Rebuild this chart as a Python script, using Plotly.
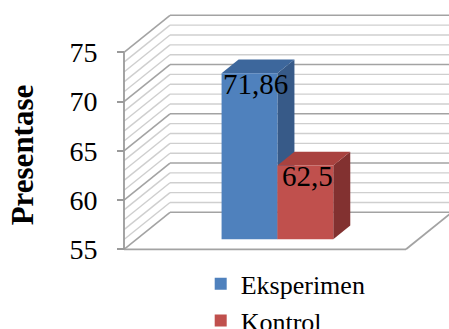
import plotly.graph_objects as go

# ---- data ----
categories = ["Eksperimen", "Kontrol"]
values = [71.86, 62.5]
value_labels = ["71,86", "62,5"]
tick_values = [55, 60, 65, 70, 75]
tick_labels = ["55", "60", "65", "70", "75"]

front_colors = ["#4F81BD", "#C0504D"]
top_colors = ["#3D679C", "#A9423F"]
side_colors = ["#375A88", "#823130"]

# ---- pseudo-3D geometry (category units on x, value units on y) ----
Y_MIN, Y_MAX = 55, 75
DX = 46 / 282          # horizontal shift of the back plane
DY = 37 / 9.85         # vertical shift of the back plane (value units)
BAR_W = 0.198
F0, F1 = 0.27, 0.64    # bar front / back depth fractions
bar_left = [-BAR_W, 0.0]

X_LO = -0.5 - 7 / 282
X_HI = -0.5 + 325 / 282
Y_LO = 55 - 79.7 / 9.85
Y_HI = 55 + 249.3 / 9.85

SERIF = "Liberation Serif"

fig = go.Figure()

# walls and floor
shapes = []
minor_c, major_c = "#CFCFCF", "#A3A3A3"
for v in range(Y_MIN, Y_MAX + 1):
    major = v % 5 == 0
    col = major_c if major else minor_c
    w = 1.6 if major else 1.4
    shapes.append(dict(type="line", xref="x", yref="y", layer="below",
                       x0=-0.5, y0=v, x1=-0.5 + DX, y1=v + DY,
                       line=dict(color=col, width=w)))
    shapes.append(dict(type="line", xref="x", yref="y", layer="below",
                       x0=-0.5 + DX, y0=v + DY, x1=0.5 + DX, y1=v + DY,
                       line=dict(color=col, width=w)))
# floor outline and front axis line
floor_pts = [(-0.5, Y_MIN), (0.5, Y_MIN), (0.5 + DX, Y_MIN + DY)]
for (xa, ya), (xb, yb) in zip(floor_pts[:-1], floor_pts[1:]):
    shapes.append(dict(type="line", xref="x", yref="y", layer="below",
                       x0=xa, y0=ya, x1=xb, y1=yb,
                       line=dict(color=major_c, width=1.8)))
shapes.append(dict(type="line", xref="x", yref="y", layer="below",
                   x0=-0.5, y0=Y_MIN, x1=-0.5, y1=Y_MAX,
                   line=dict(color="#9A9A9A", width=1.8)))

# bars: side face, top face, front face
for i, (name, v) in enumerate(zip(categories, values)):
    xl = bar_left[i]
    xr = xl + BAR_W
    z = 2 * i + 1
    side_x = [xr + F0 * DX, xr + F0 * DX, xr + F1 * DX, xr + F1 * DX, xr + F0 * DX]
    side_y = [Y_MIN + F0 * DY, v + F0 * DY, v + F1 * DY, Y_MIN + F1 * DY, Y_MIN + F0 * DY]
    top_x = [xl + F0 * DX, xr + F0 * DX, xr + F1 * DX, xl + F1 * DX, xl + F0 * DX]
    top_y = [v + F0 * DY, v + F0 * DY, v + F1 * DY, v + F1 * DY, v + F0 * DY]
    fig.add_trace(go.Scatter(x=side_x, y=side_y, fill="toself", mode="lines",
                             fillcolor=side_colors[i], line=dict(width=0),
                             showlegend=False, hoverinfo="skip", zorder=z))
    fig.add_trace(go.Scatter(x=top_x, y=top_y, fill="toself", mode="lines",
                             fillcolor=top_colors[i], line=dict(width=0),
                             showlegend=False, hoverinfo="skip", zorder=z))
    fig.add_trace(go.Bar(x=[xl + BAR_W / 2 + F0 * DX], y=[v - Y_MIN],
                         base=[Y_MIN + F0 * DY], width=[BAR_W], name=name,
                         marker=dict(color=front_colors[i], line=dict(width=0)),
                         zorder=z + 1))

# value labels
annotations = []
label_shift = [6, 2]
for i, (v, lab) in enumerate(zip(values, value_labels)):
    annotations.append(dict(x=bar_left[i] + BAR_W / 2 + F0 * DX, y=v + F0 * DY,
                            xref="x", yref="y", text=lab, showarrow=False,
                            xanchor="center", yanchor="middle", yshift=-11,
                            xshift=label_shift[i],
                            font=dict(family=SERIF, size=29, color="black")))
annotations.append(dict(x=-0.284, y=0.53, xref="paper", yref="paper",
                        text="<b>Presentase</b>", showarrow=False, textangle=-90,
                        xanchor="center", yanchor="middle",
                        font=dict(family=SERIF, size=31, color="black")))

fig.update_layout(
    width=449, height=329, autosize=False,
    margin=dict(l=117, r=0, t=0, b=0, autoexpand=False),
    paper_bgcolor="white", plot_bgcolor="white",
    barmode="overlay",
    shapes=shapes, annotations=annotations,
    showlegend=True,
    legend=dict(xref="container", yref="container", x=0.447, y=0.209,
                xanchor="left", yanchor="top", bgcolor="rgba(0,0,0,0)",
                font=dict(family=SERIF, size=26, color="black"),
                tracegroupgap=0, itemwidth=30),
    xaxis=dict(range=[X_LO, X_HI], visible=False, fixedrange=True),
    yaxis=dict(range=[Y_LO, Y_HI], anchor="free", position=7 / 332,
               tickvals=tick_values, ticktext=tick_labels,
               ticks="outside", ticklen=7, tickwidth=1.8, tickcolor="#9A9A9A",
               ticklabelstandoff=14, automargin=False,
               tickfont=dict(family=SERIF, size=28, color="black"),
               showgrid=False, zeroline=False, showline=False, fixedrange=True),
)

fig.write_html("out.html")
